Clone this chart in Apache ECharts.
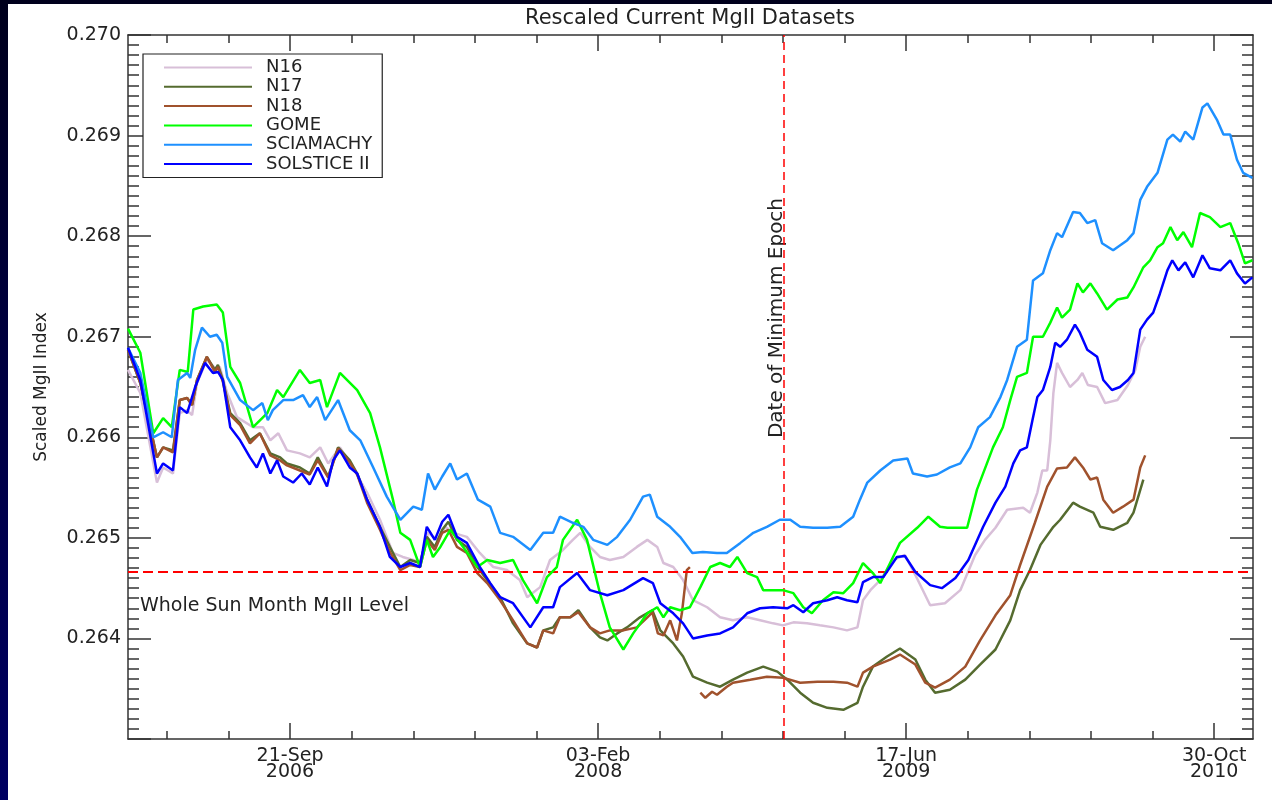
<!DOCTYPE html>
<html><head><meta charset="utf-8">
<script src="https://cdn.jsdelivr.net/npm/echarts@6/dist/echarts.min.js"></script>
<style>
html,body{margin:0;padding:0;width:1272px;height:800px;overflow:hidden;background:linear-gradient(to bottom,#00001c 0%,#000040 45%,#000062 100%);}
#paper{position:absolute;left:8px;top:4px;width:1264px;height:796px;background:#fff;}
#chart{position:absolute;left:0;top:0;width:1272px;height:800px;}
</style></head><body><div id="paper"></div><div id="chart"></div>
<script>
// x values: day number = Julian Day - 2450000 ; y: scaled MgII index
const seriesNames = ['N16', 'N17', 'N18', 'GOME', 'SCIAMACHY', 'SOLSTICE II'];
const seriesColors = ['#d8bfd8', '#556b2f', '#a0522d', '#00ff00', '#1e90ff', '#0000ff'];

const N16 = [[3737,0.26667],[3757,0.26644],[3784,0.26555],[3794,0.26570],[3810,0.26564],[3821,0.26624],[3833,0.26627],[3841,0.26622],[3849,0.26654],[3865,0.26677],[3878,0.26669],[3886,0.26670],[3898,0.26644],[3914,0.26620],[3940,0.26610],[3956,0.26610],[3968,0.26597],[3981,0.26604],[3995,0.26587],[4016,0.26584],[4032,0.26580],[4049,0.26590],[4062,0.26574],[4081,0.26590],[4102,0.26570],[4125,0.26545],[4146,0.26518],[4167,0.26485],[4183,0.26481],[4200,0.26478],[4211,0.26475],[4224,0.26505],[4239,0.26498],[4252,0.26511],[4265,0.26505],[4287,0.26501],[4308,0.26485],[4330,0.26471],[4352,0.26468],[4373,0.26458],[4385,0.26441],[4406,0.26451],[4422,0.26478],[4443,0.26488],[4459,0.26498],[4471,0.26505],[4487,0.26491],[4503,0.26481],[4519,0.26478],[4541,0.26481],[4563,0.26491],[4580,0.26498],[4596,0.26491],[4606,0.26475],[4622,0.26471],[4638,0.26458],[4654,0.26438],[4677,0.26431],[4698,0.26421],[4719,0.26418],[4742,0.26421],[4763,0.26418],[4784,0.26415],[4800,0.26413],[4817,0.26416],[4839,0.26415],[4860,0.26413],[4882,0.26411],[4904,0.26408],[4921,0.26411],[4930,0.26438],[4942,0.26448],[4958,0.26458],[4979,0.26478],[4998,0.26483],[5015,0.26463],[5039,0.26433],[5063,0.26435],[5088,0.26448],[5112,0.26483],[5128,0.26498],[5145,0.26510],[5164,0.26528],[5190,0.26530],[5201,0.26525],[5213,0.26545],[5221,0.26567],[5229,0.26567],[5234,0.26597],[5239,0.26644],[5245,0.26674],[5253,0.26664],[5266,0.26650],[5278,0.26657],[5286,0.26664],[5295,0.26652],[5310,0.26650],[5323,0.26634],[5343,0.26637],[5360,0.26652],[5372,0.26667],[5380,0.26690],[5388,0.26700]];

const N17 = [[3737,0.26687],[3757,0.26654],[3784,0.26580],[3794,0.26590],[3810,0.26587],[3821,0.26637],[3833,0.26639],[3841,0.26632],[3849,0.26657],[3865,0.26680],[3878,0.26667],[3883,0.26672],[3891,0.26657],[3903,0.26624],[3919,0.26614],[3935,0.26597],[3951,0.26604],[3968,0.26584],[3984,0.26580],[3995,0.26574],[4016,0.26570],[4032,0.26564],[4045,0.26580],[4062,0.26561],[4078,0.26590],[4097,0.26577],[4109,0.26564],[4125,0.26538],[4146,0.26511],[4162,0.26491],[4179,0.26471],[4195,0.26478],[4211,0.26475],[4222,0.26501],[4235,0.26491],[4247,0.26508],[4257,0.26516],[4271,0.26498],[4287,0.26491],[4304,0.26471],[4320,0.26458],[4341,0.26441],[4362,0.26415],[4385,0.26395],[4401,0.26391],[4411,0.26408],[4427,0.26411],[4438,0.26421],[4455,0.26421],[4468,0.26428],[4487,0.26411],[4503,0.26401],[4515,0.26398],[4531,0.26405],[4547,0.26411],[4568,0.26421],[4588,0.26428],[4601,0.26408],[4622,0.26395],[4638,0.26382],[4654,0.26362],[4677,0.26356],[4698,0.26352],[4719,0.26359],[4742,0.26366],[4768,0.26372],[4791,0.26367],[4807,0.26359],[4828,0.26346],[4849,0.26336],[4872,0.26331],[4898,0.26329],[4921,0.26336],[4930,0.26352],[4946,0.26372],[4969,0.26382],[4990,0.26390],[5015,0.26379],[5031,0.26359],[5047,0.26346],[5071,0.26349],[5096,0.26359],[5120,0.26374],[5145,0.26389],[5169,0.26418],[5185,0.26448],[5201,0.26468],[5218,0.26493],[5239,0.26511],[5250,0.26518],[5271,0.26535],[5282,0.26531],[5304,0.26525],[5315,0.26511],[5336,0.26508],[5359,0.26515],[5369,0.26525],[5385,0.26558]];

const N18 = [[3737,0.26687],[3757,0.26654],[3784,0.26580],[3794,0.26590],[3810,0.26585],[3821,0.26637],[3833,0.26639],[3841,0.26632],[3849,0.26657],[3865,0.26680],[3878,0.26665],[3883,0.26670],[3891,0.26655],[3903,0.26622],[3919,0.26612],[3935,0.26594],[3951,0.26604],[3968,0.26582],[3984,0.26577],[3995,0.26572],[4016,0.26567],[4032,0.26563],[4045,0.26577],[4062,0.26560],[4078,0.26589],[4097,0.26575],[4109,0.26563],[4125,0.26535],[4146,0.26508],[4162,0.26486],[4179,0.26468],[4195,0.26473],[4211,0.26471],[4222,0.26498],[4235,0.26488],[4247,0.26505],[4257,0.26508],[4271,0.26491],[4287,0.26485],[4304,0.26465],[4320,0.26455],[4341,0.26438],[4362,0.26418],[4385,0.26395],[4401,0.26391],[4411,0.26408],[4427,0.26405],[4438,0.26421],[4455,0.26421],[4468,0.26426],[4487,0.26411],[4503,0.26405],[4519,0.26408],[4541,0.26408],[4563,0.26411],[4580,0.26421],[4588,0.26426],[4597,0.26405],[4606,0.26403],[4617,0.26418],[4628,0.26398],[4636,0.26425],[4644,0.26468],[4649,0.26471],[4657,null],[4666,0.26346],[4674,0.26341],[4685,0.26347],[4693,0.26344],[4709,0.26352],[4719,0.26356],[4747,0.26359],[4774,0.26362],[4800,0.26361],[4828,0.26356],[4856,0.26357],[4882,0.26357],[4904,0.26356],[4921,0.26352],[4930,0.26366],[4946,0.26372],[4974,0.26379],[4990,0.26384],[5015,0.26374],[5031,0.26356],[5047,0.26351],[5071,0.26359],[5096,0.26372],[5120,0.26398],[5145,0.26423],[5169,0.26443],[5185,0.26473],[5209,0.26515],[5229,0.26551],[5245,0.26569],[5261,0.26570],[5274,0.26580],[5287,0.26570],[5299,0.26558],[5310,0.26560],[5320,0.26538],[5336,0.26525],[5352,0.26531],[5369,0.26538],[5380,0.26570],[5388,0.26582]];

const GOME = [[3737,0.26708],[3757,0.26684],[3778,0.26604],[3794,0.26619],[3808,0.26610],[3821,0.26667],[3834,0.26665],[3843,0.26727],[3859,0.26730],[3881,0.26732],[3891,0.26724],[3903,0.26670],[3919,0.26654],[3940,0.26610],[3963,0.26624],[3979,0.26647],[3989,0.26640],[4016,0.26667],[4032,0.26654],[4049,0.26657],[4060,0.26630],[4081,0.26664],[4109,0.26647],[4130,0.26624],[4146,0.26590],[4167,0.26538],[4179,0.26505],[4195,0.26498],[4211,0.26471],[4222,0.26498],[4232,0.26481],[4244,0.26491],[4260,0.26508],[4281,0.26491],[4304,0.26471],[4320,0.26478],[4341,0.26475],[4362,0.26478],[4378,0.26458],[4401,0.26435],[4417,0.26461],[4433,0.26471],[4443,0.26498],[4466,0.26518],[4482,0.26498],[4503,0.26445],[4519,0.26411],[4541,0.26389],[4557,0.26405],[4580,0.26425],[4596,0.26431],[4606,0.26421],[4617,0.26431],[4633,0.26428],[4649,0.26431],[4666,0.26451],[4682,0.26471],[4698,0.26475],[4714,0.26471],[4726,0.26481],[4742,0.26465],[4758,0.26461],[4768,0.26448],[4784,0.26448],[4800,0.26448],[4817,0.26445],[4833,0.26431],[4847,0.26425],[4865,0.26438],[4882,0.26446],[4898,0.26445],[4914,0.26455],[4930,0.26475],[4946,0.26465],[4958,0.26455],[4974,0.26475],[4990,0.26495],[5018,0.26510],[5036,0.26521],[5055,0.26511],[5067,0.26510],[5099,0.26510],[5115,0.26548],[5141,0.26590],[5157,0.26610],[5169,0.26637],[5180,0.26660],[5196,0.26664],[5206,0.26700],[5222,0.26700],[5234,0.26714],[5245,0.26729],[5253,0.26719],[5266,0.26727],[5278,0.26753],[5287,0.26744],[5299,0.26753],[5310,0.26743],[5326,0.26727],[5343,0.26737],[5359,0.26739],[5369,0.26749],[5385,0.26769],[5396,0.26776],[5408,0.26789],[5417,0.26793],[5429,0.26809],[5440,0.26796],[5450,0.26804],[5464,0.26789],[5477,0.26823],[5493,0.26819],[5510,0.26809],[5526,0.26813],[5539,0.26793],[5550,0.26773],[5562,0.26776]];

const SCIAMACHY = [[3737,0.26689],[3757,0.26664],[3778,0.26600],[3794,0.26605],[3808,0.26600],[3818,0.26657],[3833,0.26664],[3838,0.26659],[3846,0.26687],[3857,0.26709],[3870,0.26700],[3881,0.26702],[3890,0.26694],[3898,0.26660],[3919,0.26637],[3940,0.26627],[3955,0.26634],[3964,0.26617],[3972,0.26627],[3989,0.26637],[4005,0.26637],[4021,0.26642],[4032,0.26630],[4044,0.26640],[4057,0.26617],[4078,0.26637],[4097,0.26607],[4114,0.26597],[4135,0.26570],[4157,0.26541],[4179,0.26518],[4200,0.26531],[4214,0.26528],[4224,0.26564],[4235,0.26548],[4247,0.26561],[4260,0.26574],[4271,0.26558],[4287,0.26564],[4305,0.26538],[4325,0.26531],[4341,0.26505],[4362,0.26501],[4390,0.26488],[4411,0.26505],[4427,0.26505],[4438,0.26521],[4459,0.26515],[4476,0.26511],[4492,0.26498],[4515,0.26493],[4531,0.26501],[4552,0.26518],[4573,0.26541],[4584,0.26543],[4596,0.26521],[4617,0.26511],[4633,0.26501],[4653,0.26485],[4670,0.26486],[4693,0.26485],[4709,0.26485],[4731,0.26495],[4752,0.26505],[4774,0.26511],[4795,0.26518],[4812,0.26518],[4828,0.26511],[4849,0.26510],[4872,0.26510],[4893,0.26511],[4914,0.26521],[4925,0.26538],[4937,0.26555],[4958,0.26567],[4979,0.26577],[5002,0.26579],[5011,0.26564],[5034,0.26561],[5050,0.26563],[5071,0.26570],[5088,0.26574],[5104,0.26590],[5117,0.26610],[5136,0.26620],[5153,0.26640],[5164,0.26657],[5180,0.26690],[5196,0.26697],[5206,0.26756],[5222,0.26763],[5234,0.26786],[5245,0.26803],[5253,0.26799],[5271,0.26824],[5282,0.26823],[5294,0.26813],[5307,0.26816],[5318,0.26793],[5336,0.26786],[5359,0.26796],[5369,0.26803],[5380,0.26836],[5391,0.26849],[5408,0.26863],[5424,0.26896],[5433,0.26901],[5445,0.26894],[5453,0.26904],[5466,0.26896],[5481,0.26928],[5489,0.26932],[5505,0.26915],[5515,0.26901],[5526,0.26901],[5537,0.26876],[5547,0.26863],[5562,0.26858]];

const SOLSTICE = [[3737,0.26689],[3757,0.26657],[3784,0.26564],[3794,0.26574],[3810,0.26567],[3821,0.26630],[3833,0.26624],[3846,0.26650],[3862,0.26674],[3875,0.26664],[3883,0.26665],[3891,0.26657],[3903,0.26610],[3919,0.26597],[3935,0.26580],[3946,0.26570],[3956,0.26584],[3968,0.26564],[3979,0.26577],[3989,0.26561],[4005,0.26555],[4019,0.26564],[4032,0.26553],[4045,0.26570],[4060,0.26551],[4070,0.26577],[4081,0.26587],[4097,0.26570],[4109,0.26564],[4125,0.26538],[4146,0.26511],[4162,0.26481],[4179,0.26471],[4195,0.26475],[4211,0.26471],[4222,0.26511],[4235,0.26498],[4247,0.26516],[4257,0.26523],[4271,0.26501],[4287,0.26495],[4308,0.26471],[4325,0.26455],[4341,0.26441],[4362,0.26435],[4390,0.26411],[4411,0.26431],[4427,0.26431],[4438,0.26451],[4466,0.26465],[4487,0.26448],[4515,0.26443],[4541,0.26448],[4573,0.26460],[4589,0.26455],[4601,0.26435],[4622,0.26425],[4638,0.26415],[4654,0.26400],[4677,0.26403],[4698,0.26405],[4719,0.26411],[4742,0.26425],[4763,0.26430],[4784,0.26431],[4807,0.26430],[4817,0.26433],[4833,0.26426],[4849,0.26435],[4872,0.26438],[4888,0.26441],[4904,0.26438],[4921,0.26436],[4930,0.26456],[4946,0.26461],[4963,0.26461],[4985,0.26481],[4998,0.26482],[5015,0.26466],[5039,0.26453],[5058,0.26450],[5080,0.26460],[5101,0.26478],[5125,0.26511],[5145,0.26535],[5161,0.26551],[5174,0.26574],[5185,0.26587],[5196,0.26590],[5205,0.26617],[5213,0.26640],[5222,0.26647],[5234,0.26670],[5242,0.26694],[5250,0.26690],[5261,0.26697],[5274,0.26712],[5282,0.26704],[5294,0.26687],[5310,0.26680],[5320,0.26657],[5334,0.26647],[5347,0.26650],[5360,0.26657],[5369,0.26664],[5380,0.26707],[5391,0.26717],[5401,0.26724],[5412,0.26743],[5424,0.26766],[5432,0.26776],[5442,0.26766],[5453,0.26774],[5466,0.26759],[5481,0.26781],[5493,0.26768],[5510,0.26766],[5526,0.26776],[5537,0.26763],[5550,0.26753],[5562,0.26759]];

const X_MIN = 3737, X_MAX = 5563;           // 2006-01-01 .. 2010-12-27
const Y_MIN = 0.263, Y_MAX = 0.270, Y_STEP = 0.001;
const majorDays = [4000, 4500, 5000, 5500]; // 21-Sep-2006, 03-Feb-2008, 17-Jun-2009, 30-Oct-2010
const minorDays = [3800, 3900, 4100, 4200, 4300, 4400, 4600, 4700, 4800, 4900, 5100, 5200, 5300, 5400];
const WSM_LEVEL = 0.26466;     // Whole Sun Month MgII level
const MIN_EPOCH_DAY = 4801;    // date of minimum epoch (Dec 2008)

const MON = ['Jan','Feb','Mar','Apr','May','Jun','Jul','Aug','Sep','Oct','Nov','Dec'];
function dayLabel(d) {
  const t = new Date((d + 9412.5) * 86400000);
  const dd = String(t.getUTCDate()).padStart(2, '0');
  return dd + '-' + MON[t.getUTCMonth()] + '\n' + t.getUTCFullYear();
}

const FONT = 'DejaVu Sans';
const AX = '#333';
const dataSets = [N16, N17, N18, GOME, SCIAMACHY, SOLSTICE];

function xAx(pos, vals, len, showLine, showLabel) {
  return {
    type: 'value', min: X_MIN, max: X_MAX, position: pos, gridIndex: 0,
    axisLine: { show: showLine, onZero: false, lineStyle: { color: AX, width: 1.5 } },
    axisTick: { show: true, inside: true, length: len, customValues: vals, lineStyle: { color: AX, width: 1.5 } },
    axisLabel: showLabel ? { show: true, customValues: vals, formatter: dayLabel, fontFamily: FONT, fontSize: 19,
      color: '#222', lineHeight: 16, margin: 9 } : { show: false },
    splitLine: { show: false }
  };
}
function yAx(pos, showLabel) {
  return {
    type: 'value', min: Y_MIN, max: Y_MAX, interval: Y_STEP, position: pos,
    name: showLabel ? 'Scaled MgII Index' : '', nameLocation: 'middle', nameGap: 78, nameRotate: 90,
    nameTextStyle: { fontFamily: FONT, fontSize: 17, color: '#222' },
    axisLine: { show: true, lineStyle: { color: AX, width: 1.5 } },
    axisTick: { show: true, inside: true, length: 23, lineStyle: { color: AX, width: 1.5 } },
    minorTick: { show: true, splitNumber: 10, length: 11, lineStyle: { color: AX, width: 1.5 } },
    axisLabel: showLabel ? { show: true, showMinLabel: false, formatter: v => v.toFixed(3), fontFamily: FONT,
      fontSize: 19, color: '#222', margin: 7 } : { show: false },
    splitLine: { show: false }, minorSplitLine: { show: false }
  };
}

const series = seriesNames.map((n, i) => ({
  name: n, type: 'line', xAxisIndex: 0, yAxisIndex: 0, data: dataSets[i],
  showSymbol: false, symbol: 'none', connectNulls: false,
  lineStyle: { color: seriesColors[i], width: 2.5 }, itemStyle: { color: seriesColors[i] }, z: 2 + i
}));
series.push({
  name: 'refLines', type: 'line', data: [], xAxisIndex: 0, yAxisIndex: 0, z: 20,
  markLine: {
    silent: true, symbol: ['none', 'none'], label: { show: false }, animation: false,
    data: [
      [{ coord: [X_MIN, WSM_LEVEL], lineStyle: { color: '#ff0000', type: [10, 5], width: 2 } },
       { coord: [X_MAX, WSM_LEVEL] }],
      [{ coord: [MIN_EPOCH_DAY, Y_MIN], lineStyle: { color: '#ff0000', type: [8, 5], width: 1.5 } },
       { coord: [MIN_EPOCH_DAY, Y_MAX] }]
    ]
  }
});

const chart = echarts.init(document.getElementById('chart'), null, { renderer: 'canvas' });
chart.setOption({
  animation: false,
  backgroundColor: 'transparent',
  title: { text: 'Rescaled Current MgII Datasets', left: 690, textAlign: 'center', top: 8, padding: 0,
    textStyle: { fontFamily: FONT, fontSize: 21, fontWeight: 'normal', color: '#222' } },
  grid: { left: 128, right: 19, top: 35, bottom: 61, containLabel: false },
  legend: {
    data: seriesNames, orient: 'vertical', left: 143, top: 54, selectedMode: false,
    icon: 'rect', itemWidth: 88, itemHeight: 2, itemGap: 0.3,
    backgroundColor: '#fff', borderColor: '#222', borderWidth: 1.2, padding: [4, 10, 4, 21],
    textStyle: { fontFamily: FONT, fontSize: 18, color: '#222', lineHeight: 19, padding: [0, 0, 0, 9] }
  },
  xAxis: [
    xAx('bottom', majorDays, 16, true, true),
    xAx('bottom', minorDays, 8, false, false),
    xAx('top', majorDays, 16, true, false),
    xAx('top', minorDays, 8, false, false)
  ],
  yAxis: [yAx('left', true), yAx('right', false)],
  graphic: [
    { type: 'text', left: 140, top: 597, style: { text: 'Whole Sun Month MgII Level', fontFamily: FONT, fontSize: 19, fill: '#222' } },
    { type: 'text', x: 777, y: 318, rotation: Math.PI / 2,
      style: { text: 'Date of Minimum Epoch', fontFamily: FONT, fontSize: 20, fill: '#222', align: 'center', verticalAlign: 'middle' } }
  ],
  series: series
});
</script></body></html>
